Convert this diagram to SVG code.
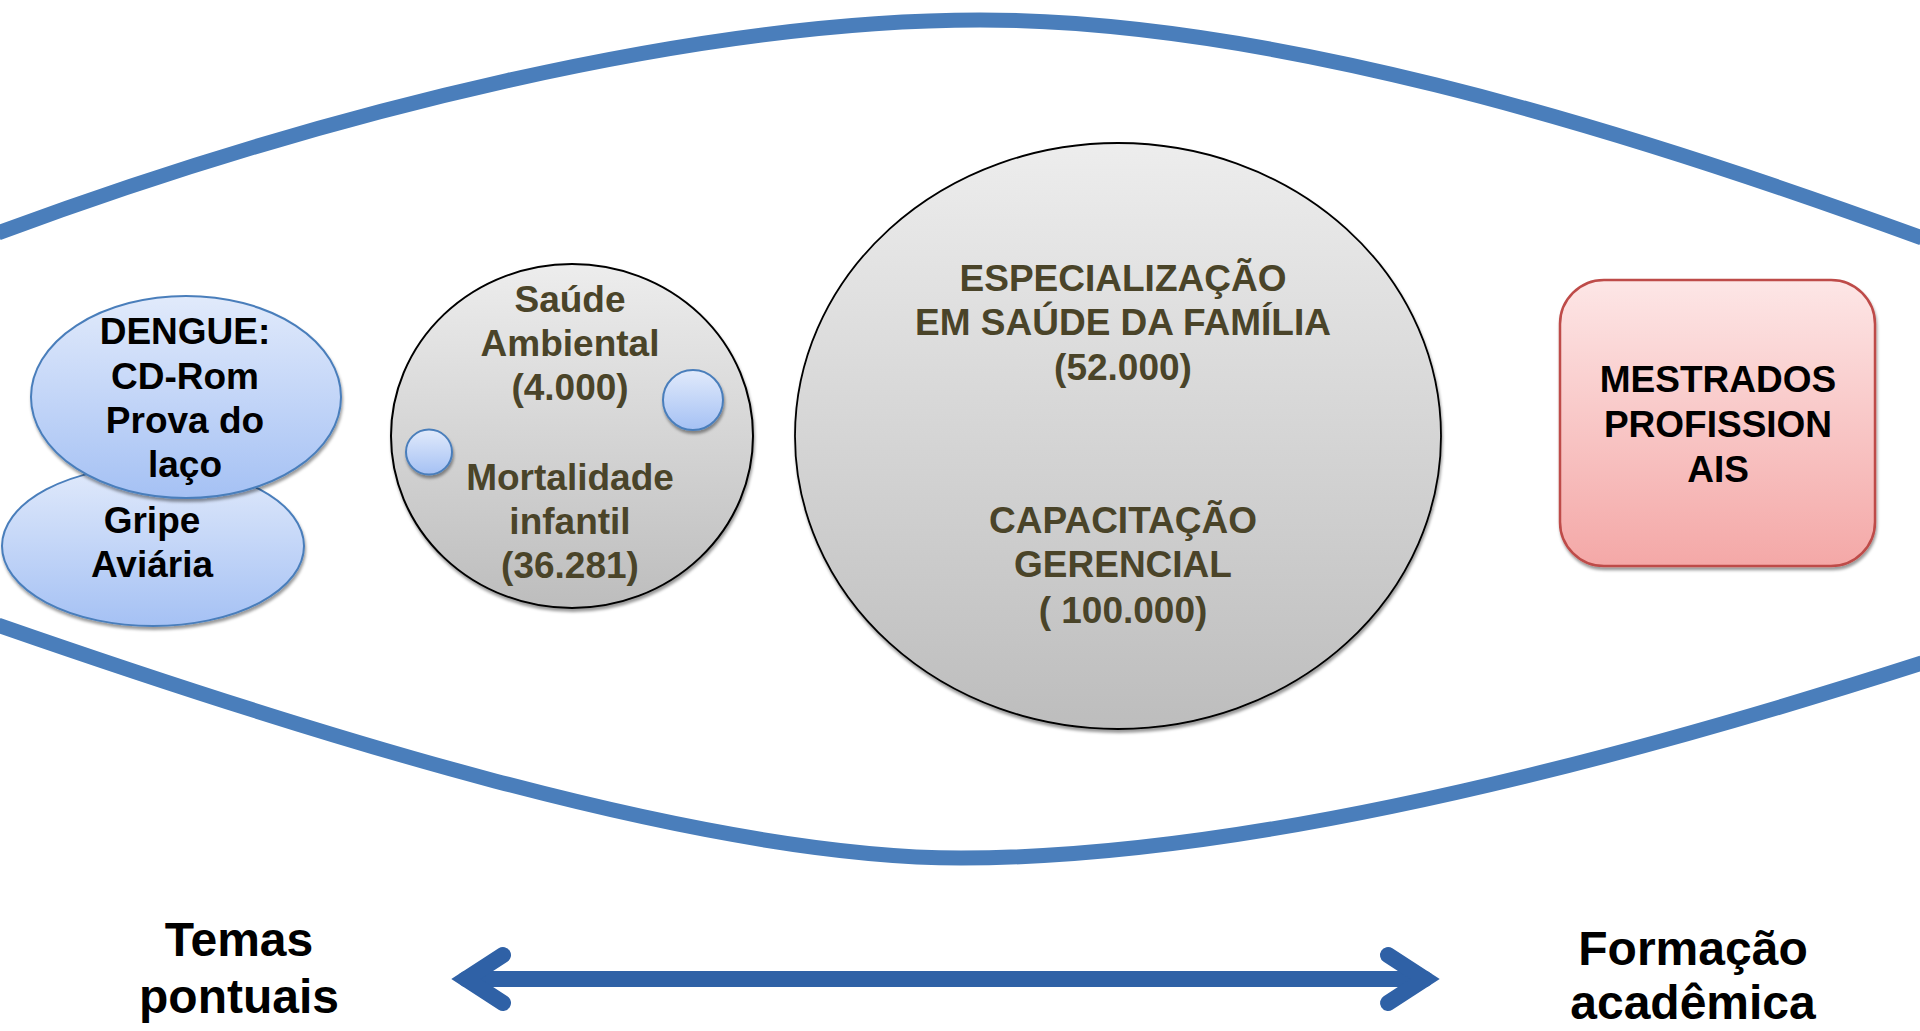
<svg xmlns="http://www.w3.org/2000/svg" width="1920" height="1031" viewBox="0 0 1920 1031">
<defs>
<linearGradient id="gBlue" x1="0" y1="0" x2="0" y2="1">
<stop offset="0" stop-color="#E1EAFB"/>
<stop offset="1" stop-color="#A5C1F4"/>
</linearGradient>
<linearGradient id="gGray" x1="0" y1="0" x2="0" y2="1">
<stop offset="0" stop-color="#EDEDED"/>
<stop offset="1" stop-color="#BDBDBD"/>
</linearGradient>
<linearGradient id="gRed" x1="0" y1="0" x2="0" y2="1">
<stop offset="0" stop-color="#FDE6E6"/>
<stop offset="1" stop-color="#F4A8A7"/>
</linearGradient>
<filter id="sh" x="-10%" y="-10%" width="120%" height="130%">
<feDropShadow dx="1" dy="3" stdDeviation="1.5" flood-color="#000" flood-opacity="0.4"/>
</filter>
</defs>
<style>
.curve{fill:none;stroke:#4A7EBB;stroke-width:15}
.blue{fill:url(#gBlue);stroke:#4A7EBB;stroke-width:2;filter:url(#sh)}
.gray{fill:url(#gGray);stroke:#000;stroke-width:2;filter:url(#sh)}
.red{fill:url(#gRed);stroke:#BE4B48;stroke-width:2.5;filter:url(#sh)}
.t{font-family:"Liberation Sans",Arial,sans-serif;font-weight:bold;font-size:37px;text-anchor:middle}
.k{fill:#000}
.o{fill:#4A4429}
.big{font-size:48px}
.arrow{fill:none;stroke:#2F61A6;stroke-width:16;stroke-linecap:round;stroke-linejoin:miter;stroke-miterlimit:10}
</style>
<rect width="1920" height="1031" fill="#fff"/>
<g id="frame">
<path class="curve" d="M-2,233 C330,110 700,20 980,20 C1260,20 1600,120 1922,238"/>
<path class="curve" d="M-2,625 C300,730 700,858 961,858 C1250,858 1620,760 1922,663"/>
</g>
<g id="gripe">
<ellipse class="blue" cx="153" cy="546" rx="151" ry="80"/>
<text class="t k" x="152" y="533">Gripe</text>
<text class="t k" x="152" y="577">Aviária</text>
</g>
<g id="dengue">
<ellipse class="blue" cx="186" cy="397" rx="155" ry="101"/>
<text class="t k" x="185" y="344">DENGUE:</text>
<text class="t k" x="185" y="389">CD-Rom</text>
<text class="t k" x="185" y="433">Prova do</text>
<text class="t k" x="185" y="477">laço</text>
</g>
<g id="saude-mortalidade">
<ellipse class="gray" cx="572" cy="436" rx="181" ry="172"/>
<text class="t o" x="570" y="312">Saúde</text>
<text class="t o" x="570" y="356">Ambiental</text>
<text class="t o" x="570" y="400">(4.000)</text>
<text class="t o" x="570" y="490">Mortalidade</text>
<text class="t o" x="570" y="534">infantil</text>
<text class="t o" x="570" y="578">(36.281)</text>
</g>
<g id="bolha1">
<ellipse class="blue" cx="693" cy="400" rx="30" ry="30"/>
</g>
<g id="bolha2">
<ellipse class="blue" cx="429" cy="452" rx="23" ry="22.5"/>
</g>
<g id="especializacao-capacitacao">
<ellipse class="gray" cx="1118" cy="436" rx="323" ry="293" style="stroke-width:1.8"/>
<text class="t o" x="1123" y="291">ESPECIALIZAÇÃO</text>
<text class="t o" x="1123" y="335">EM SAÚDE DA FAMÍLIA</text>
<text class="t o" x="1123" y="380">(52.000)</text>
<text class="t o" x="1123" y="533">CAPACITAÇÃO</text>
<text class="t o" x="1123" y="577">GERENCIAL</text>
<text class="t o" x="1123" y="623">( 100.000)</text>
</g>
<g id="mestrados">
<rect class="red" x="1560" y="280" width="315" height="286" rx="44" ry="44"/>
<text class="t k" x="1718" y="392">MESTRADOS</text>
<text class="t k" x="1718" y="437">PROFISSION</text>
<text class="t k" x="1718" y="482">AIS</text>
</g>
<g id="label-temas">
<text class="t k big" x="239" y="956">Temas</text>
<text class="t k big" x="239" y="1013">pontuais</text>
</g>
<g id="label-formacao">
<text class="t k big" x="1693" y="965">Formação</text>
<text class="t k big" x="1693" y="1019">acadêmica</text>
</g>
<g id="connectors">
<path class="arrow" d="M466,979 L1425,979"/>
<path class="arrow" d="M503,955 L466,979 L503,1003"/>
<path class="arrow" d="M1388,955 L1425,979 L1388,1003"/>
</g>
</svg>
